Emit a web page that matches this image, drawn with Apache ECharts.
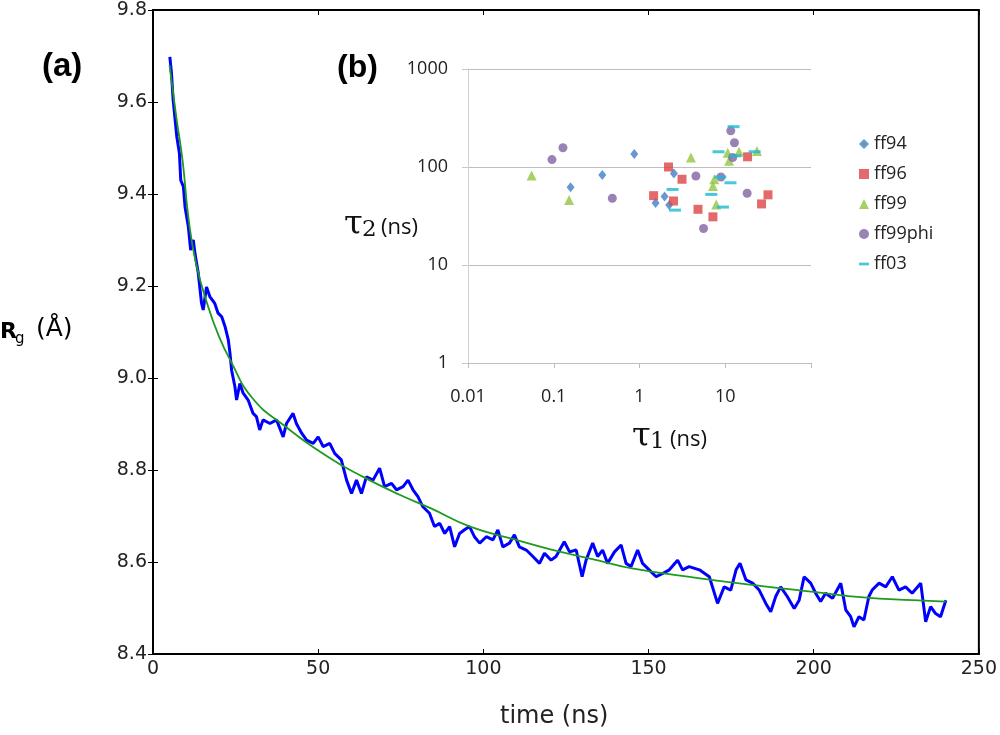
<!DOCTYPE html>
<html>
<head>
<meta charset="utf-8">
<script src="https://cdn.jsdelivr.net/npm/echarts@6/dist/echarts.min.js"></script>
<style>
html, body { margin: 0; padding: 0; background: #fff; }
#main { width: 1000px; height: 735px; }
</style>
</head>
<body>
<div id="main"></div>
<script>
// (a) Rg trajectory
var rgTime = [5.1, 5.6, 6.1, 6.7, 7.2, 8.0, 8.4, 9.2, 9.7, 10.7, 11.4, 12.2, 12.7, 13.7, 14.7, 15.2, 16.2, 17.2, 18.7, 19.7,
    20.8, 21.8, 22.8, 23.3, 23.8, 24.8, 25.3, 26.3, 27.3, 28.8, 30.3, 31.3, 32.3, 33.3, 35.4, 37.4, 39.4, 40.4, 42.4, 43.4,
    45.0, 46.5, 48.5, 50.0, 51.5, 53.5, 55.0, 57.0, 58.6, 60.1, 61.6, 63.1, 64.6, 66.6, 68.6, 70.1, 72.2, 73.7, 75.7, 77.2,
    78.7, 80.2, 81.7, 83.7, 85.2, 86.8, 88.3, 89.8, 91.3, 92.8, 94.3, 95.8, 97.3, 98.9, 100.9, 102.9, 104.4, 105.9, 107.9, 109.4,
    110.9, 113.0, 115.0, 117.0, 118.5, 120.5, 122.0, 124.5, 126.1, 128.1, 129.9, 131.1, 133.1, 134.6, 136.1, 137.6, 139.7, 141.7, 143.2, 144.7,
    146.7, 148.2, 150.2, 152.3, 154.3, 156.3, 158.8, 160.3, 162.3, 165.4, 168.4, 170.9, 172.9, 174.9, 176.5, 177.7, 179.5, 181.5, 183.5, 185.5,
    187.0, 188.5, 190.0, 192.0, 194.1, 195.6, 197.1, 199.1, 200.6, 202.1, 203.6, 205.7, 208.2, 209.7, 211.2, 212.2, 213.7, 215.2, 216.7, 217.7,
    219.8, 221.8, 223.8, 225.8, 227.8, 229.8, 232.4, 233.9, 235.4, 236.9, 238.4, 240.0];
var rgValue = [9.698, 9.662, 9.604, 9.561, 9.525, 9.488, 9.430, 9.416, 9.372, 9.329, 9.278, 9.300, 9.271, 9.228, 9.162, 9.148, 9.198, 9.177, 9.162, 9.141,
    9.133, 9.112, 9.083, 9.054, 9.017, 8.981, 8.952, 8.988, 8.967, 8.952, 8.923, 8.916, 8.887, 8.909, 8.901, 8.909, 8.872, 8.901, 8.923, 8.901,
    8.880, 8.865, 8.858, 8.872, 8.851, 8.858, 8.836, 8.822, 8.778, 8.749, 8.778, 8.749, 8.785, 8.778, 8.804, 8.764, 8.771, 8.757, 8.764, 8.778,
    8.757, 8.742, 8.720, 8.706, 8.677, 8.684, 8.662, 8.677, 8.633, 8.662, 8.670, 8.677, 8.655, 8.641, 8.655, 8.648, 8.670, 8.633, 8.641, 8.659,
    8.633, 8.626, 8.612, 8.597, 8.619, 8.604, 8.612, 8.644, 8.622, 8.626, 8.568, 8.604, 8.641, 8.612, 8.626, 8.597, 8.622, 8.637, 8.597, 8.590,
    8.626, 8.597, 8.583, 8.568, 8.575, 8.583, 8.604, 8.583, 8.590, 8.583, 8.568, 8.510, 8.546, 8.539, 8.583, 8.597, 8.561, 8.554, 8.539, 8.510,
    8.492, 8.525, 8.546, 8.525, 8.499, 8.517, 8.568, 8.554, 8.532, 8.514, 8.532, 8.521, 8.554, 8.496, 8.481, 8.459, 8.481, 8.474, 8.525, 8.539,
    8.554, 8.546, 8.568, 8.539, 8.546, 8.532, 8.554, 8.470, 8.503, 8.488, 8.481, 8.517];

// fitted curve
var fitTime = [5, 7, 9, 10.7, 13, 16.7, 20, 23.3, 30, 40, 53.5, 63.6, 75, 84, 96, 110, 120, 135, 145, 165, 185, 200, 215, 230, 240];
var fitValue = [9.68, 9.57, 9.47, 9.35, 9.25, 9.155, 9.09, 9.04, 8.957, 8.895, 8.826, 8.785, 8.745, 8.717, 8.677, 8.648, 8.628, 8.603, 8.586, 8.565, 8.547, 8.535, 8.523, 8.517, 8.514];

// (b) tau1 / tau2 (ns)
var ff94Tau1 = [0.157, 0.368, 0.87, 2.52, 1.96, 1.54, 2.22];
var ff94Tau2 = [62, 83, 136, 86, 50, 43, 41];
var ff96Tau1 = [2.18, 3.13, 1.46, 2.49, 4.81, 7.18, 18.2, 31.5, 26.5];
var ff96Tau2 = [100, 75, 51, 45, 37, 31, 127, 52, 42];
var ff99Tau1 = [0.0552, 0.151, 3.98, 10.7, 14.5, 23.4, 11.1, 7.45, 7.2, 7.85];
var ff99Tau2 = [82, 46, 125, 140, 143, 146, 116, 75, 64, 41.5];
var ff99phiTau1 = [0.0953, 0.128, 0.482, 11.6, 12.8, 12.2, 4.55, 8.9, 18.0, 5.58];
var ff99phiTau2 = [119, 157, 48, 234, 177, 125, 81, 79, 54, 23.6];
var ff03Tau1 = [12.5, 8.35, 13.1, 22.0, 8.75, 11.5, 2.43, 6.87, 9.4, 2.59];
var ff03Tau2 = [258, 143, 130, 143, 79, 69, 59, 52.5, 39, 36.3];

function pairs(xs, ys) {
    var out = [];
    for (var i = 0; i < xs.length; i++) {
        out.push([xs[i], ys[i]]);
    }
    return out;
}

var mplFont = 'DejaVu Sans';
var insetFont = 'Open Sans';
var dashPath = 'path://M0,0H11V3H0Z';

var myChart = echarts.init(document.getElementById('main'));
var option = {
    backgroundColor: '#fff',
    animation: false,
    grid: [
        { left: 153, top: 10, right: 20, bottom: 81, show: true, borderColor: '#000', borderWidth: 2 },
        { left: 468, top: 69, width: 343, height: 294 }
    ],
    xAxis: [
        {
            gridIndex: 0, type: 'value', min: 0, max: 250, interval: 50,
            axisLine: { show: true, onZero: false, lineStyle: { color: '#000', width: 2 } },
            axisTick: { inside: true, length: 5, lineStyle: { color: '#000' } },
            axisLabel: { color: '#222', fontFamily: mplFont, fontSize: 19, margin: 6 },
            splitLine: { show: false }
        },
        {
            gridIndex: 0, type: 'value', position: 'top', min: 0, max: 250, interval: 50,
            axisLine: { show: false },
            axisTick: { inside: true, length: 5, lineStyle: { color: '#000' } },
            axisLabel: { show: false },
            splitLine: { show: false }
        },
        {
            gridIndex: 1, type: 'log', logBase: 10, min: 0.01, max: 100,
            axisLine: { show: true, lineStyle: { color: '#bdbdbd', width: 1 } },
            axisTick: { show: true, length: 5, lineStyle: { color: '#bdbdbd' } },
            axisLabel: {
                color: '#222', fontFamily: insetFont, fontSize: 18, margin: 25,
                formatter: function (v) {
                    var n = Number(v.toPrecision(3));
                    return n >= 100 ? '' : String(n);
                }
            },
            splitLine: { show: false }
        }
    ],
    yAxis: [
        {
            gridIndex: 0, type: 'value', min: 8.4, max: 9.8, interval: 0.2,
            axisLine: { show: true, onZero: false, lineStyle: { color: '#000', width: 2 } },
            axisTick: { inside: true, length: 5, lineStyle: { color: '#000' } },
            axisLabel: {
                color: '#222', fontFamily: mplFont, fontSize: 19, margin: 6,
                formatter: function (v) { return v.toFixed(1); }
            },
            splitLine: { show: false }
        },
        {
            gridIndex: 0, type: 'value', position: 'right', min: 8.4, max: 9.8, interval: 0.2,
            axisLine: { show: false },
            axisTick: { inside: true, length: 5, lineStyle: { color: '#000' } },
            axisLabel: { show: false },
            splitLine: { show: false }
        },
        {
            gridIndex: 1, type: 'log', logBase: 10, min: 1, max: 1000,
            axisLine: { show: true, lineStyle: { color: '#d0d0d0', width: 1 } },
            axisTick: { show: true, length: 6, lineStyle: { color: '#c8c8c8' } },
            axisLabel: {
                color: '#222', fontFamily: insetFont, fontSize: 18, margin: 20,
                formatter: function (v) { return String(Number(v.toPrecision(3))); }
            },
            splitLine: { show: true, lineStyle: { color: '#bdbdbd', width: 1 } }
        }
    ],
    legend: {
        orient: 'vertical',
        left: 859, top: 135, padding: 0,
        itemWidth: 10, itemHeight: 10, itemGap: 12,
        textStyle: { color: '#222', fontFamily: insetFont, fontSize: 18 },
        data: [
            { name: 'ff94', icon: 'diamond' },
            { name: 'ff96', icon: 'rect' },
            { name: 'ff99', icon: 'triangle' },
            { name: 'ff99phi', icon: 'circle' },
            { name: 'ff03', icon: dashPath }
        ]
    },
    graphic: [
        { type: 'text', left: 42, top: 50, style: { text: '(a)', font: 'bold 33px "Liberation Sans"', fill: '#000' } },
        { type: 'text', left: 337, top: 52, style: { text: '(b)', font: 'bold 32px "Liberation Sans"', fill: '#000' } },
        { type: 'text', left: 0, top: 321, style: { text: 'R', font: 'bold 22px "DejaVu Sans"', fill: '#000' } },
        { type: 'text', left: 15, top: 332, style: { text: 'g', font: '15px "DejaVu Sans"', fill: '#000' } },
        { type: 'text', left: 36, top: 317, style: { text: '(Å)', font: '25px "DejaVu Sans"', fill: '#000' } },
        { type: 'text', left: 500, top: 705, style: { text: 'time (ns)', font: '24px "DejaVu Sans"', fill: '#222' } },
        { type: 'text', left: 344, top: 208, style: { text: 'τ', font: '34px "DejaVu Serif"', fill: '#111' } },
        { type: 'text', left: 362, top: 219, style: { text: '2', font: '23px "DejaVu Serif"', fill: '#111' } },
        { type: 'text', left: 381, top: 217, style: { text: '(ns)', font: '22px "Open Sans"', fill: '#111' } },
        { type: 'text', left: 632, top: 420, style: { text: 'τ', font: '34px "DejaVu Serif"', fill: '#111' } },
        { type: 'text', left: 650, top: 431, style: { text: '1', font: '23px "DejaVu Serif"', fill: '#111' } },
        { type: 'text', left: 670, top: 429, style: { text: '(ns)', font: '22px "Open Sans"', fill: '#111' } }
    ],
    series: [
        {
            name: 'Rg', type: 'line', xAxisIndex: 0, yAxisIndex: 0,
            data: pairs(rgTime, rgValue), showSymbol: false, smooth: false,
            lineStyle: { color: '#0000ff', width: 3 }, z: 2
        },
        {
            name: 'fit', type: 'line', xAxisIndex: 0, yAxisIndex: 0,
            data: pairs(fitTime, fitValue), showSymbol: false, smooth: true,
            lineStyle: { color: '#1f9a1f', width: 1.8 }, z: 3
        },
        {
            name: 'ff94', type: 'scatter', xAxisIndex: 2, yAxisIndex: 2,
            data: pairs(ff94Tau1, ff94Tau2), symbol: 'diamond', symbolSize: [8, 10],
            itemStyle: { color: '#3f7fc6' }
        },
        {
            name: 'ff96', type: 'scatter', xAxisIndex: 2, yAxisIndex: 2,
            data: pairs(ff96Tau1, ff96Tau2), symbol: 'rect', symbolSize: 9,
            itemStyle: { color: '#dc4346' }
        },
        {
            name: 'ff99', type: 'scatter', xAxisIndex: 2, yAxisIndex: 2,
            data: pairs(ff99Tau1, ff99Tau2), symbol: 'triangle', symbolSize: 10,
            itemStyle: { color: '#93c43e' }
        },
        {
            name: 'ff99phi', type: 'scatter', xAxisIndex: 2, yAxisIndex: 2,
            data: pairs(ff99phiTau1, ff99phiTau2), symbol: 'circle', symbolSize: 9,
            itemStyle: { color: '#8064a2' }
        },
        {
            name: 'ff03', type: 'scatter', xAxisIndex: 2, yAxisIndex: 2,
            data: pairs(ff03Tau1, ff03Tau2), symbol: 'rect', symbolSize: [12, 3],
            itemStyle: { color: '#1bbad3' }
        }
    ]
};
myChart.setOption(option);
</script>
</body>
</html>
